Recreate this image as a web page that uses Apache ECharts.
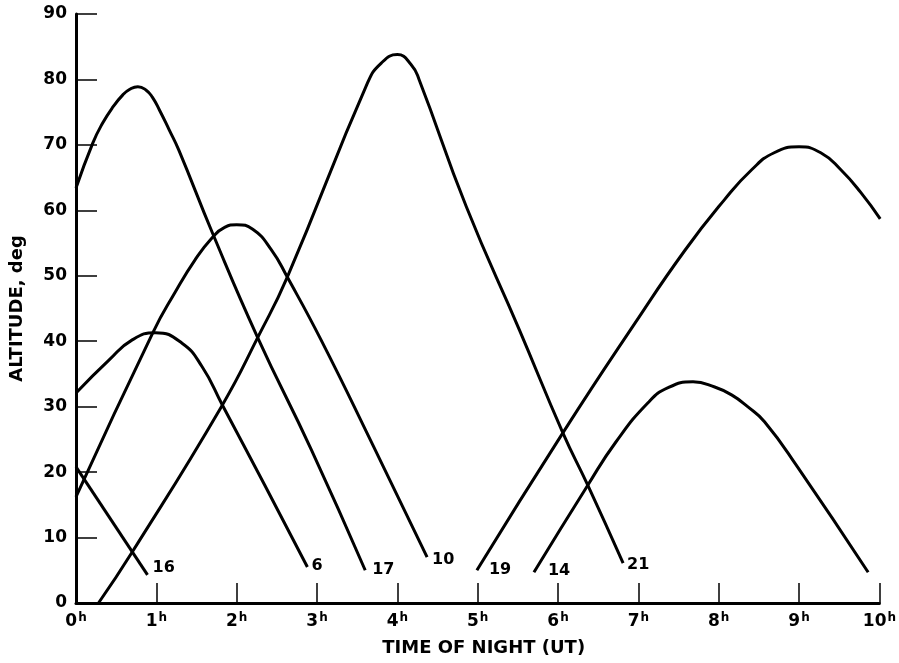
<!DOCTYPE html>
<html>
<head>
<meta charset="utf-8">
<script src="https://cdn.jsdelivr.net/npm/echarts@6/dist/echarts.min.js"></script>
<style>
  html, body { margin: 0; padding: 0; background: #fff; }
  #main { width: 899px; height: 663px; }
</style>
</head>
<body>
<div id="main"></div>
<script>
var myChart = echarts.init(document.getElementById('main'));

// hour ticks and altitude ticks
var hourTicks = [0, 1, 2, 3, 4, 5, 6, 7, 8, 9, 10];
var altTicks = [0, 10, 20, 30, 40, 50, 60, 70, 80, 90];

// [time (h), altitude (deg)], one array per star
var star16 = [[0, 20.8], [0.89, 4.3]];
var star6 = [[0, 32.1], [0.41, 37.1], [0.70, 40.2], [0.99, 41.3], [1.32, 39.7], [1.57, 36.1], [1.82, 30.3], [2.35, 18.0], [2.88, 5.5]];
var star17 = [[0, 63.4], [0.21, 70.3], [0.33, 73.3], [0.46, 75.8], [0.58, 77.6], [0.67, 78.5], [0.77, 78.9], [0.87, 78.4], [0.95, 77.3], [1.04, 75.3], [1.16, 72.3], [1.28, 69.2], [1.70, 56.5], [2.26, 40.6], [2.93, 23.4], [3.60, 5.0]];
var star10 = [[0, 16.2], [0.96, 41.4], [1.23, 47.4], [1.48, 52.4], [1.70, 55.9], [1.85, 57.4], [2.0, 57.8], [2.2, 57.1], [2.43, 54.0], [2.63, 49.8], [3.05, 40.2], [3.70, 24.0], [4.37, 7.0]];
var star21 = [[0.28, 0], [0.70, 7.8], [1.81, 30.0], [2.28, 41.0], [2.63, 49.8], [3.63, 79.5], [3.80, 82.5], [4.0, 83.8], [4.17, 82.3], [4.27, 80.0], [4.86, 60.5], [5.52, 41.7], [6.06, 26.0], [6.37, 18.0], [6.81, 6.1]];
var star19 = [[4.99, 5.0], [6.06, 26.0], [6.96, 42.8], [7.58, 53.9], [8.07, 61.6], [8.41, 66.2], [8.69, 68.8], [9.0, 69.7], [9.27, 68.8], [9.52, 66.2], [9.77, 62.7], [10.01, 58.7]];
var star14 = [[5.70, 4.7], [6.37, 18.0], [6.72, 24.6], [7.12, 30.6], [7.37, 32.9], [7.68, 33.8], [7.95, 33.0], [8.16, 31.8], [8.36, 30.0], [8.57, 27.7], [8.98, 20.8], [9.86, 4.7]];

// which end carries the star number, and a small nudge for the label
var curves = [
    { name: '16', data: star16, labelAt: 'end', nudge: [5, -7] },
    { name: '6', data: star6, labelAt: 'end', nudge: [4, -1] },
    { name: '17', data: star17, labelAt: 'end', nudge: [7, 0] },
    { name: '10', data: star10, labelAt: 'end', nudge: [5, 3] },
    { name: '21', data: star21, labelAt: 'end', nudge: [4, 2] },
    { name: '19', data: star19, labelAt: 'start', nudge: [12, 0] },
    { name: '14', data: star14, labelAt: 'start', nudge: [14, -1] }
];

var font = 'DejaVu Sans, Verdana, sans-serif';

var series = curves.map(function(c) {
    // endLabel sits on the last point, so rising stars are fed backwards
    var pts = c.labelAt === 'start' ? c.data.slice().reverse() : c.data;
    return {
        name: c.name,
        type: 'line',
        data: pts,
        smooth: 0.5,
        showSymbol: false,
        symbol: 'none',
        silent: true,
        lineStyle: { color: '#000', width: 3 },
        endLabel: {
            show: true,
            formatter: c.name,
            distance: 0,
            offset: c.nudge,
            color: '#000',
            fontFamily: font,
            fontWeight: 'bold',
            fontSize: 16,
            verticalAlign: 'middle'
        }
    };
});

option = {
    animation: false,
    backgroundColor: '#fff',
    grid: { left: 76, right: 13, top: 14, bottom: 60 },
    xAxis: {
        type: 'value',
        min: hourTicks[0],
        max: hourTicks[hourTicks.length - 1],
        interval: 1,
        name: 'TIME OF NIGHT (UT)',
        nameLocation: 'middle',
        nameGap: 36,
        nameTextStyle: { color: '#000', fontFamily: font, fontWeight: 'bold', fontSize: 18, padding: [0, 0, 0, 12] },
        splitLine: { show: false },
        axisLine: { lineStyle: { color: '#000', width: 3 } },
        axisTick: { inside: true, length: 20, lineStyle: { color: '#000', width: 1.5 } },
        axisLabel: {
            margin: 9,
            formatter: function(v) { return '{n|' + v + '}{s|h}'; },
            rich: {
                n: { color: '#000', fontFamily: font, fontWeight: 'bold', fontSize: 17 },
                s: { color: '#000', fontFamily: font, fontWeight: 'bold', fontSize: 12, padding: [0, 0, 8, 1] }
            }
        }
    },
    yAxis: {
        type: 'value',
        min: altTicks[0],
        max: altTicks[altTicks.length - 1],
        interval: 10,
        name: 'ALTITUDE, deg',
        nameLocation: 'middle',
        nameGap: 50,
        nameTextStyle: { color: '#000', fontFamily: font, fontWeight: 'bold', fontSize: 18 },
        splitLine: { show: false },
        axisLine: { show: true, lineStyle: { color: '#000', width: 3 } },
        axisTick: { show: true, inside: true, length: 21, lineStyle: { color: '#000', width: 1.5 } },
        axisLabel: { margin: 9, color: '#000', fontFamily: font, fontWeight: 'bold', fontSize: 17 }
    },
    series: series
};

myChart.setOption(option);
</script>
</body>
</html>
